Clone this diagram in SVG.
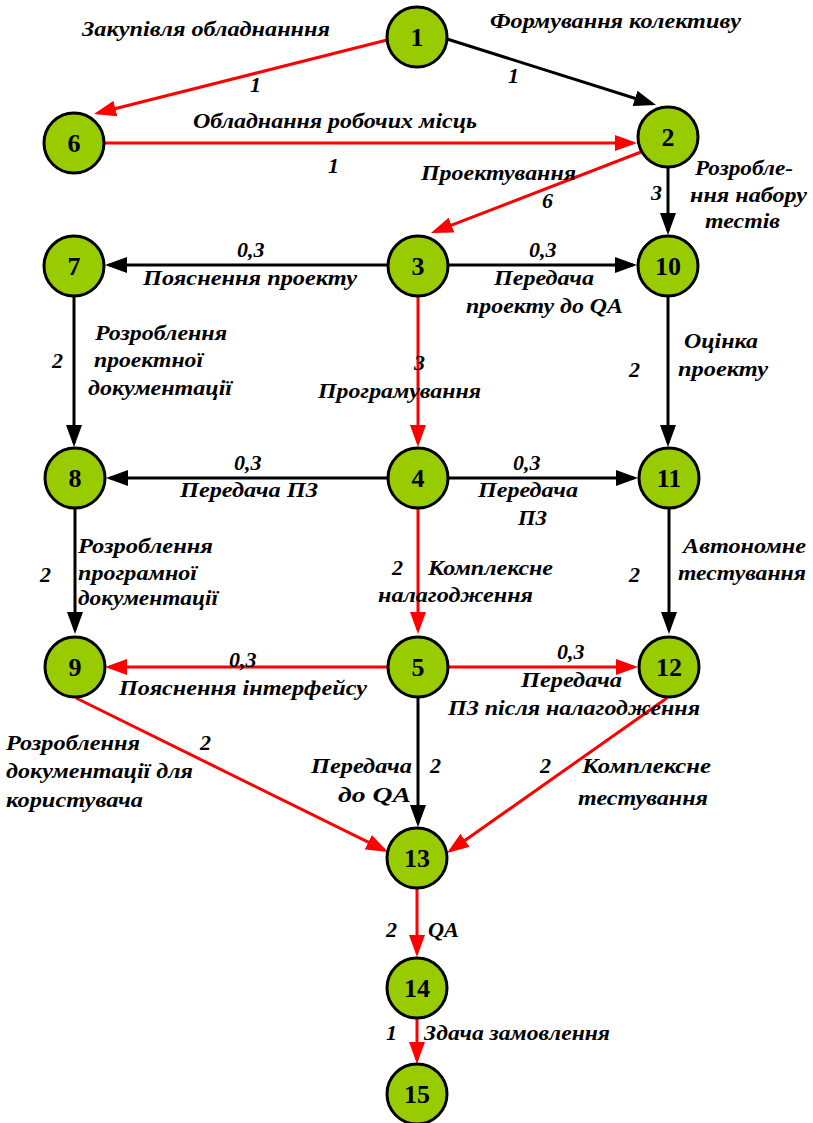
<svg xmlns="http://www.w3.org/2000/svg" width="813" height="1123" viewBox="0 0 813 1123">
  <defs>
    <style>
      text { font-family: 'Liberation Serif', 'Times New Roman', Times, 'DejaVu Serif', serif; }
      .node circle { fill: #99cc00; stroke: #000; stroke-width: 3; }
      .node text { font-weight: bold; font-size: 26px; text-anchor: middle; fill: #000; }
      .edge { fill: none; stroke-width: 3; }
      .blk { stroke: #000; marker-end: url(#ahB); }
      .red { stroke: #ff0000; marker-end: url(#ahR); }
      .lbl text { font-style: italic; font-weight: bold; font-size: 22px; fill: #000; }
    </style>
    <marker id="ahB" markerUnits="userSpaceOnUse" markerWidth="22" markerHeight="16" refX="18" refY="8" orient="auto">
      <path d="M0,0 L22,8 L0,16 z" fill="#000"/>
    </marker>
    <marker id="ahR" markerUnits="userSpaceOnUse" markerWidth="22" markerHeight="16" refX="18" refY="8" orient="auto">
      <path d="M0,0 L22,8 L0,16 z" fill="#ff0000"/>
    </marker>
  </defs>

  <rect width="813" height="1123" fill="#fff"/>

  <!-- connectors -->
  <g id="connectors">
    <path class="edge red" d="M387,40 L97.9,113"/>
    <path class="edge blk" d="M447,39 L652.2,103.8"/>
    <path class="edge red" d="M105,143 L633,143"/>
    <path class="edge red" d="M641,152 L434.7,231.6"/>
    <path class="edge blk" d="M668,168 L668,231"/>
    <path class="edge blk" d="M387,265 L109,265"/>
    <path class="edge blk" d="M449,265 L633,265"/>
    <path class="edge red" d="M418,297 L418,443"/>
    <path class="edge blk" d="M74,297 L74,443"/>
    <path class="edge blk" d="M668,297 L668,443"/>
    <path class="edge blk" d="M387,478 L110,478"/>
    <path class="edge blk" d="M449,478 L634,478"/>
    <path class="edge red" d="M418,509 L418,630"/>
    <path class="edge blk" d="M75,509 L75,630"/>
    <path class="edge blk" d="M669,509 L669,630"/>
    <path class="edge red" d="M387,667 L109,667"/>
    <path class="edge red" d="M449,667 L634,667"/>
    <path class="edge red" d="M76,698 L384.4,850.2"/>
    <path class="edge blk" d="M418,698 L418,823"/>
    <path class="edge red" d="M667,698 L450.3,850.7"/>
    <path class="edge red" d="M417,889 L417,953"/>
    <path class="edge red" d="M417,1019 L417,1060"/>
  </g>

  <!-- nodes -->
  <g id="n1" class="node"><circle cx="417" cy="37" r="30"/><text x="417" y="46">1</text></g>
  <g id="n2" class="node"><circle cx="668" cy="137" r="30"/><text x="668" y="146">2</text></g>
  <g id="n6" class="node"><circle cx="74" cy="143" r="30"/><text x="74" y="152">6</text></g>
  <g id="n7" class="node"><circle cx="74" cy="266" r="30"/><text x="74" y="275">7</text></g>
  <g id="n3" class="node"><circle cx="418" cy="266" r="30"/><text x="418" y="275">3</text></g>
  <g id="n10" class="node"><circle cx="668" cy="266" r="30"/><text x="668" y="275">10</text></g>
  <g id="n8" class="node"><circle cx="75" cy="478" r="30"/><text x="75" y="487">8</text></g>
  <g id="n4" class="node"><circle cx="418" cy="478" r="30"/><text x="418" y="487">4</text></g>
  <g id="n11" class="node"><circle cx="669" cy="478" r="30"/><text x="669" y="487">11</text></g>
  <g id="n9" class="node"><circle cx="75" cy="667" r="30"/><text x="75" y="676">9</text></g>
  <g id="n5" class="node"><circle cx="418" cy="667" r="30"/><text x="418" y="676">5</text></g>
  <g id="n12" class="node"><circle cx="669" cy="667" r="30"/><text x="669" y="676">12</text></g>
  <g id="n13" class="node"><circle cx="417" cy="858" r="30"/><text x="417" y="867">13</text></g>
  <g id="n14" class="node"><circle cx="417" cy="988" r="30"/><text x="417" y="997">14</text></g>
  <g id="n15" class="node"><circle cx="417" cy="1094" r="30"/><text x="417" y="1103">15</text></g>

  <!-- labels -->
  <g id="labels" class="lbl">
    <text x="82" y="36" textLength="248" lengthAdjust="spacingAndGlyphs">Закупівля обладнанння</text>
    <text x="490" y="28" textLength="251" lengthAdjust="spacingAndGlyphs">Формування колективу</text>
    <text x="250" y="92">1</text>
    <text x="508" y="83">1</text>
    <text x="193" y="128" textLength="284" lengthAdjust="spacingAndGlyphs">Обладнання робочих місць</text>
    <text x="328" y="173">1</text>
    <text x="421" y="180" textLength="155" lengthAdjust="spacingAndGlyphs">Проектування</text>
    <text x="542" y="208">6</text>
    <text x="651" y="200">3</text>
    <text x="695" y="175" textLength="98" lengthAdjust="spacingAndGlyphs">Розробле-</text>
    <text x="690" y="202" textLength="117" lengthAdjust="spacingAndGlyphs">ння набору</text>
    <text x="705" y="228" textLength="75" lengthAdjust="spacingAndGlyphs">тестів</text>

    <text x="237" y="257">0,3</text>
    <text x="143" y="285" textLength="214" lengthAdjust="spacingAndGlyphs">Пояснення проекту</text>
    <text x="529" y="257">0,3</text>
    <text x="494" y="285" textLength="100" lengthAdjust="spacingAndGlyphs">Передача</text>
    <text x="466" y="313" textLength="157" lengthAdjust="spacingAndGlyphs">проекту до QA</text>

    <text x="52" y="368">2</text>
    <text x="95" y="340" textLength="132" lengthAdjust="spacingAndGlyphs">Розроблення</text>
    <text x="94" y="367" textLength="109" lengthAdjust="spacingAndGlyphs">проектної</text>
    <text x="88" y="395" textLength="144" lengthAdjust="spacingAndGlyphs">документації</text>
    <text x="414" y="370">3</text>
    <text x="318" y="398" textLength="163" lengthAdjust="spacingAndGlyphs">Програмування</text>
    <text x="629" y="377">2</text>
    <text x="684" y="348" textLength="74" lengthAdjust="spacingAndGlyphs">Оцінка</text>
    <text x="678" y="376" textLength="90" lengthAdjust="spacingAndGlyphs">проекту</text>

    <text x="234" y="470">0,3</text>
    <text x="180" y="497" textLength="138" lengthAdjust="spacingAndGlyphs">Передача ПЗ</text>
    <text x="513" y="470">0,3</text>
    <text x="478" y="497" textLength="100" lengthAdjust="spacingAndGlyphs">Передача</text>
    <text x="518" y="525" textLength="29" lengthAdjust="spacingAndGlyphs">ПЗ</text>

    <text x="40" y="582">2</text>
    <text x="78" y="553" textLength="135" lengthAdjust="spacingAndGlyphs">Розроблення</text>
    <text x="78" y="580" textLength="119" lengthAdjust="spacingAndGlyphs">програмної</text>
    <text x="78" y="605" textLength="140" lengthAdjust="spacingAndGlyphs">документації</text>
    <text x="392" y="575">2</text>
    <text x="428" y="575" textLength="125" lengthAdjust="spacingAndGlyphs">Комплексне</text>
    <text x="378" y="602" textLength="155" lengthAdjust="spacingAndGlyphs">налагодження</text>
    <text x="629" y="582">2</text>
    <text x="683" y="553" textLength="123" lengthAdjust="spacingAndGlyphs">Автономне</text>
    <text x="678" y="580" textLength="128" lengthAdjust="spacingAndGlyphs">тестування</text>

    <text x="229" y="667">0,3</text>
    <text x="119" y="695" textLength="248" lengthAdjust="spacingAndGlyphs">Пояснення інтерфейсу</text>
    <text x="557" y="659">0,3</text>
    <text x="521" y="687" textLength="101" lengthAdjust="spacingAndGlyphs">Передача</text>
    <text x="448" y="715" textLength="252" lengthAdjust="spacingAndGlyphs">ПЗ після налагодження</text>

    <text x="6" y="750" textLength="134" lengthAdjust="spacingAndGlyphs">Розроблення</text>
    <text x="6" y="778" textLength="187" lengthAdjust="spacingAndGlyphs">документації для</text>
    <text x="6" y="807" textLength="137" lengthAdjust="spacingAndGlyphs">користувача</text>
    <text x="200" y="750">2</text>
    <text x="311" y="773" textLength="101" lengthAdjust="spacingAndGlyphs">Передача</text>
    <text x="338" y="802" textLength="73" lengthAdjust="spacingAndGlyphs">до QA</text>
    <text x="430" y="773">2</text>
    <text x="540" y="773">2</text>
    <text x="582" y="773" textLength="129" lengthAdjust="spacingAndGlyphs">Комплексне</text>
    <text x="578" y="805" textLength="130" lengthAdjust="spacingAndGlyphs">тестування</text>

    <text x="386" y="937">2</text>
    <text x="428" y="937" textLength="31" lengthAdjust="spacingAndGlyphs">QA</text>
    <text x="386" y="1040">1</text>
    <text x="424" y="1040" textLength="186" lengthAdjust="spacingAndGlyphs">Здача замовлення</text>
  </g>
</svg>
